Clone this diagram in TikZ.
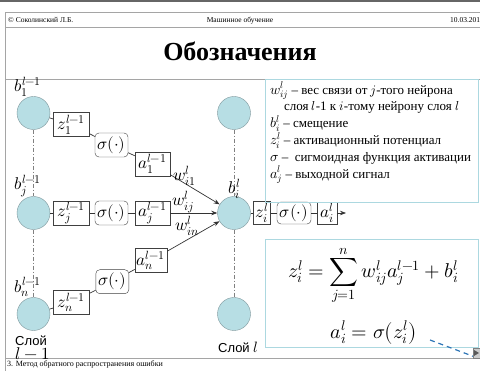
\documentclass[tikz,border=0pt]{standalone}
\usepackage{fontspec}
\usepackage{unicode-math}
\setmainfont{Liberation Serif}
\newfontfamily\slidesans{Liberation Sans}
\usetikzlibrary{arrows.meta}

\definecolor{cellfill}{RGB}{183,222,228}
\definecolor{cellline}{RGB}{125,150,155}
\definecolor{boxblue}{RGB}{172,216,224}
\definecolor{framegray}{RGB}{165,165,165}
\definecolor{dashblue}{RGB}{46,117,182}

\newcommand\legendfont{\fontsize{13}{16.8}\selectfont\lineskiplimit=-20pt\relax}
\newcommand\legendmath{\fontsize{14}{16}\selectfont}

\begin{document}
\begin{tikzpicture}[x=1pt,y=-1pt,
    neuron/.style={circle, draw=cellline, fill=cellfill, minimum size=33pt, inner sep=0pt},
    valbox/.style={draw=black!75, fill=white, minimum height=24pt, inner sep=1pt, font=\fontsize{17}{19}\selectfont},
    actbox/.style={valbox, rounded corners=4pt},
    lbl/.style={font=\fontsize{17}{19}\selectfont, inner sep=0pt},
    link/.style={black!80, line width=0.7pt},
    edge/.style={link, -{Stealth[length=6pt,width=4.5pt]}},
    layer/.style={gray, line width=0.5pt, dash pattern=on 4pt off 2pt on 1pt off 2pt}]
    \useasboundingbox (0,0) rectangle (480,371);

    % Slide frame
    \fill[gray!80!black] (0,0) rectangle (480,2);
    \draw[framegray] (480,12.5) -- (5,12.5) -- (5,371);
    \draw[framegray] (5,27) -- (480,27);
    \draw[framegray] (5,79) -- (480,79);
    \draw[framegray] (5,358.5) -- (480,358.5);

    % Header and footer
    \node[anchor=base west, inner sep=0pt, font=\fontsize{7.5}{9}\selectfont] (author) at (8,23) {© Соколинский Л.Б.};
    \node[anchor=base, inner sep=0pt, font=\fontsize{7.5}{9}\selectfont] (course) at (240,23) {Машинное обучение};
    \node[anchor=base west, inner sep=0pt, font=\fontsize{7.5}{9}\selectfont] (date) at (450,23) {10.03.2015};
    \node[anchor=base west, inner sep=0pt, font=\fontsize{8}{9}\selectfont] (footer) at (7,366.5) {3. Метод обратного распространения ошибки};

    % Title
    \node[font=\fontsize{26}{30}\selectfont\bfseries] (title) at (240,51) {Обозначения};

    % Neurons
    \node[neuron] (in1) at (33.5,113) {};
    \node[neuron] (inj) at (33.5,213) {};
    \node[neuron] (inn) at (33.5,314) {};
    \node[neuron] (out1) at (234,113) {};
    \node[neuron] (outi) at (234,213) {};
    \node[neuron] (outn) at (234,314) {};

    % Layers
    \draw[layer] (in1) -- (inj);
    \draw[layer] (inj) -- (inn);
    \draw[layer] (out1) -- (outi);
    \draw[layer] (outi) -- (outn);

    % Biases
    \node[lbl] (bin1) at (28,87) {$b_1^{l-1}$};
    \node[lbl] (binj) at (28,186) {$b_j^{l-1}$};
    \node[lbl] (binn) at (28,287) {$b_n^{l-1}$};
    \node[lbl] (bouti) at (234.5,189) {$b_i^{l}$};

    % Row 1
    \node[valbox, minimum width=36pt] (z1) at (71.5,124.5) {$z_1^{l-1}$};
    \node[actbox, minimum width=33pt] (s1) at (111.5,145) {$\sigma(\cdot)$};
    \node[valbox, minimum width=35pt] (a1) at (152.5,164) {$a_1^{l-1}$};
    \draw[link] (in1) -- (z1);
    \draw[link] (z1) -- (s1);
    \draw[link] (s1) -- (a1);
    \draw[edge] (a1) -- (outi);

    % Row j
    \node[valbox, minimum width=36pt] (zj) at (71.5,213) {$z_j^{l-1}$};
    \node[actbox, minimum width=33pt] (sj) at (111.5,213) {$\sigma(\cdot)$};
    \node[valbox, minimum width=35pt] (aj) at (152.5,213) {$a_j^{l-1}$};
    \draw[link] (inj) -- (zj);
    \draw[link] (zj) -- (sj);
    \draw[link] (sj) -- (aj);
    \draw[edge] (aj) -- (outi);

    % Row n
    \node[valbox, minimum width=36pt] (zn) at (71.5,302.5) {$z_n^{l-1}$};
    \node[actbox, minimum width=33pt] (sn) at (112.3,281.7) {$\sigma(\cdot)$};
    \node[valbox, minimum width=32pt] (an) at (151,260.5) {$a_n^{l-1}$};
    \draw[link] (inn) -- (zn);
    \draw[link] (zn) -- (sn);
    \draw[link] (sn) -- (an);
    \draw[edge] (an) -- (outi);

    % Weights
    \node[lbl] (w1) at (185,176) {$w_{i1}^{l}$};
    \node[lbl] (wj) at (183,202) {$w_{ij}^{l}$};
    \node[lbl] (wn) at (187,226) {$w_{in}^{l}$};

    % Output of neuron i
    \node[valbox, minimum width=17pt, minimum height=23pt] (zi) at (262,213) {$z_i^{l}$};
    \node[actbox, minimum width=34pt, minimum height=22pt] (si) at (294,213) {$\sigma(\cdot)$};
    \node[valbox, minimum width=20pt, minimum height=22pt] (ai) at (327,213) {$a_i^{l}$};
    \coordinate (aiout) at (346,213);
    \draw[link] (outi) -- (zi);
    \draw[link] (zi) -- (si);
    \draw[link] (si) -- (ai);
    \draw[edge] (ai) -- (aiout);

    % Layer names
    \node[font=\slidesans\fontsize{13}{15}\selectfont, inner sep=0pt] (lprev) at (31,341) {Слой};
    \node[lbl] (lprevnum) at (32.5,354) {$l-1$};
    \node[font=\slidesans\fontsize{13}{15}\selectfont, inner sep=0pt] (lcur) at (238,347) {Слой {\fontsize{15}{17}\selectfont$l$}};

    % Notation box
    \draw[boxblue, line width=1pt] (265,80) rectangle (478.5,203);
    \node[anchor=north west, align=left, inner sep=0pt, font=\legendfont] (legend) at (270,82)
        {{\legendmath$w_{ij}^{l}$} -- вес связи от $j$-того нейрона\\
         \hspace{14pt}слоя $l$-1 к $i$-тому нейрону слоя $l$\\
         {\legendmath$b_i^{l}$} -- смещение\\
         {\legendmath$z_i^{l}$} -- активационный потенциал\\
         {\legendmath$\sigma$} --\ \ сигмоидная функция активации\\
         {\legendmath$a_j^{l}$} -- выходной сигнал};

    % Formula box
    \draw[boxblue, line width=1pt] (265,240) rectangle (478.5,348);
    \node[font=\fontsize{20}{24}\selectfont] (zeq) at (373.5,275) {$\displaystyle z_i^{l}=\sum_{j=1}^{n} w_{ij}^{l}a_j^{l-1}+b_i^{l}$};
    \node[font=\fontsize{20}{24}\selectfont] (aeq) at (373.5,333) {$a_i^{l}=\sigma\bigl(z_i^{l}\bigr)$};

    % Pointer
    \draw[dashblue, line width=1.2pt, dash pattern=on 5pt off 4pt] (430,340) -- (475,357);
    \draw[gray, fill=gray!40] (473,348) rectangle (480,358);
    \fill[gray!70!black] (474,350) -- (479,353) -- (474,356) -- cycle;
\end{tikzpicture}
\end{document}
